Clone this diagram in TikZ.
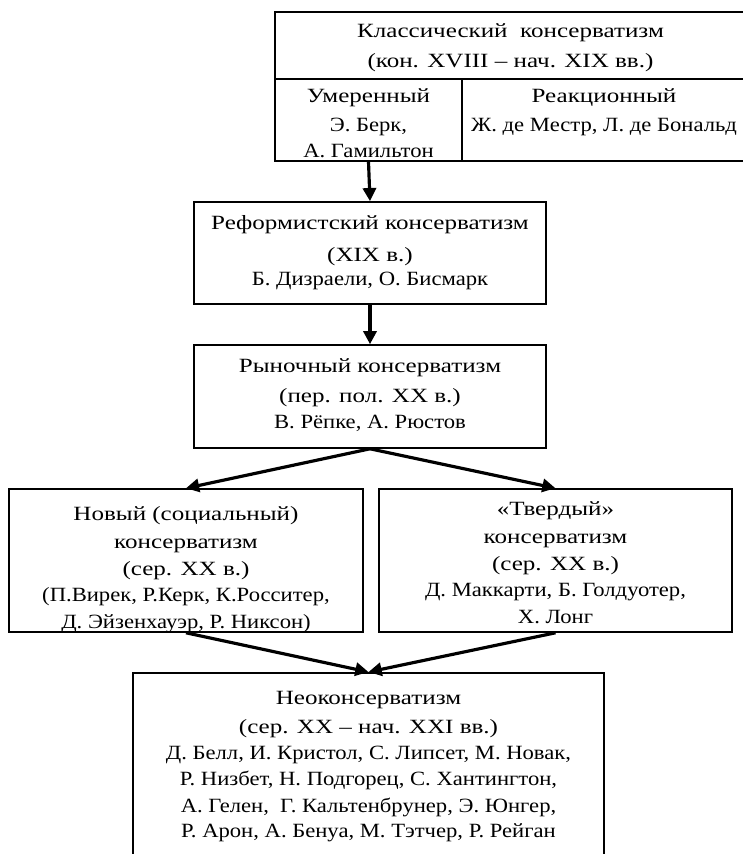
\documentclass[tikz,border=0pt]{standalone}
\usepackage{fontspec}
\setmainfont{Liberation Serif}
\newfontfamily\titlefont{Liberation Serif}[FakeStretch=1.24]
\newfontfamily\namefont{Liberation Serif}[FakeStretch=1.12]
\usetikzlibrary{arrows.meta}

\tikzset{
	box/.style={draw, line width=0.9pt, align=center, inner sep=0pt, font=\fontsize{11.5}{14.5}\selectfont},
	arr/.style={-{Triangle[length=7.5pt,width=7.5pt]}, line width=1.8pt}
}

\begin{document}
\begin{tikzpicture}
	\useasboundingbox (0,0) rectangle (14.86,-17.08);

	\node[box, minimum width=9.42cm, text height=1.10cm, text depth=0.24cm](cls) at (10.21,-0.91) {{\titlefont Классический~~консерватизм}\\[2.5pt]{\titlefont (кон. XVIII – нач. XIX вв.)}};
	\node[box, minimum width=3.74cm, text height=1.56cm, text depth=0.08cm](umer) at (7.37,-2.40) {{\titlefont Умеренный}\\[2pt]{\namefont Э. Берк,}\\{\namefont А. Гамильтон}};
	\node[box, minimum width=5.68cm, text height=1.56cm, text depth=0.08cm](reak) at (12.08,-2.40) {{\titlefont Реакционный}\\[2pt]{\namefont Ж. де Местр, Л. де Бональд}\\\mbox{}};

	\node[box, minimum width=7.04cm, text height=1.66cm, text depth=0.38cm](reform) at (7.40,-5.06) {{\titlefont Реформистский консерватизм}\\[3.5pt]{\titlefont (XIX в.)}\\[-1pt]{\namefont Б. Дизраели, О. Бисмарк}};
	\node[box, minimum width=7.04cm, text height=1.66cm, text depth=0.40cm](market) at (7.40,-7.93) {{\titlefont Рыночный консерватизм}\\[2.5pt]{\titlefont (пер. пол. XX в.)}\\{\namefont В. Рёпке, А. Рюстов}};

	\node[box, minimum width=7.08cm, text height=2.78cm, text depth=0.08cm](newcons) at (3.72,-11.21) {{\titlefont Новый (социальный)}\\[1pt]{\titlefont консерватизм}\\[1pt]{\titlefont (сер. XX в.)}\\[0.5pt]{\namefont (П.Вирек, Р.Керк, К.Росситер,}\\[0.5pt]{\namefont Д. Эйзенхауэр, Р. Никсон)}};
	\node[box, minimum width=7.06cm, text height=2.68cm, text depth=0.18cm](hardcons) at (11.11,-11.21) {{\titlefont «Твердый»}\\[1pt]{\titlefont консерватизм}\\[1pt]{\titlefont (сер. XX в.)}\\[0.5pt]{\namefont Д. Маккарти, Б. Голдуотер,}\\[0.5pt]{\namefont Х. Лонг}};

	\node[box, anchor=north, minimum width=9.42cm, text height=3.3cm, text depth=1cm](neocons) at (7.37,-13.44) {{\titlefont Неоконсерватизм}\\[1.5pt]{\titlefont (сер. XX – нач. XXI вв.)}\\[0.8pt]{\namefont Д. Белл, И. Кристол, С. Липсет, М. Новак,}\\{\namefont Р. Низбет, Н. Подгорец, С. Хантингтон,}\\[0.8pt]{\namefont А. Гелен,~~Г. Кальтенбрунер, Э. Юнгер,}\\{\namefont Р. Арон, А. Бенуа, М. Тэтчер, Р. Рейган}};

	\draw[arr](umer.south) -- (reform.north);
	\draw[arr](reform) -- (market);
	\draw[arr](market.south) -- (newcons.north);
	\draw[arr](market.south) -- (hardcons.north);
	\draw[arr](newcons.south) -- (neocons.north);
	\draw[arr](hardcons.south) -- (neocons.north);
\end{tikzpicture}
\end{document}
